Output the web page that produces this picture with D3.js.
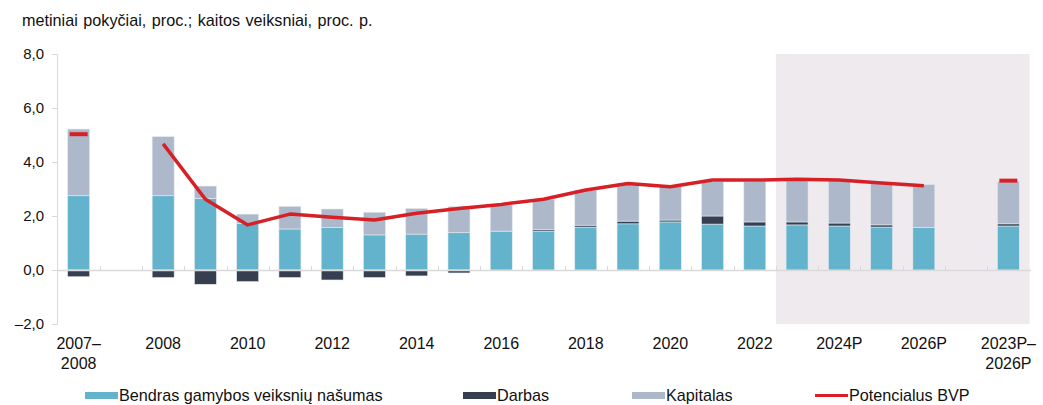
<!DOCTYPE html>
<html><head><meta charset="utf-8">
<script src="https://cdn.jsdelivr.net/npm/d3@7/dist/d3.min.js"></script>
<style>body{margin:0;background:#fff}svg{display:block;font-family:"Liberation Sans",Arial,sans-serif}</style>
</head><body><svg id="c" width="1043" height="405"></svg>
<script>
const categories = ["2007–2008","gap1","2008","2009","2010","2011","2012","2013","2014","2015","2016","2017","2018","2019","2020","2021","2022","2023","2024","2025","2026","gap2","2023P–2026P"];
const tickLabels = ["2007–\n2008","","2008","","2010","","2012","","2014","","2016","","2018","","2020","","2022","","2024P","","2026P","","2023P–\n2026P"];
const tfp     = [2.75,null,2.75,2.65,1.72,1.52,1.57,1.30,1.33,1.38,1.42,1.44,1.59,1.71,1.78,1.70,1.63,1.67,1.63,1.59,1.57,null,1.63];
const labor   = [-0.25,null,-0.28,-0.53,-0.43,-0.28,-0.37,-0.28,-0.22,-0.11,0.02,0.05,0.07,0.10,0.07,0.30,0.15,0.11,0.11,0.08,0.00,null,0.08];
const capital = [2.47,null,2.19,0.46,0.35,0.84,0.69,0.84,0.95,0.97,0.97,1.13,1.30,1.40,1.25,1.27,1.49,1.55,1.59,1.54,1.60,null,1.57];
const potential = [null,null,4.67,2.62,1.67,2.07,1.95,1.85,2.10,2.28,2.43,2.62,2.96,3.20,3.08,3.33,3.33,3.36,3.33,3.22,3.12,null,null];
const potentialMarkers = [5.03,null,null,null,null,null,null,null,null,null,null,null,null,null,null,null,null,null,null,null,null,null,3.31];
const yTicks = [-2,0,2,4,6,8];
const seriesNames = ["Bendras gamybos veiksnių našumas","Darbas","Kapitalas","Potencialus BVP"];
const title = "metiniai pokyčiai, proc.; kaitos veiksniai, proc. p.";
const forecastStart = "2023";

const colors = {tfp:"#63b3cd", labor:"#353f50", capital:"#adb8ca", line:"#d71f26"};
const svg = d3.select("#c");
const x = d3.scaleBand().domain(categories).range([57.5,1029.5]).padding(0);
const y = d3.scaleLinear().domain([-2,8]).range([324,54]);
const bw = 22;
const fmt = v => (v<0?"–":"") + Math.abs(v).toFixed(1).replace(".",",");

// forecast shading
svg.append("rect").attr("x", x(forecastStart)).attr("y", y(8))
  .attr("width", x.range()[1]-x(forecastStart)).attr("height", y(-2)-y(8)).attr("fill","#efeaee");

// title
svg.append("text").attr("x",22).attr("y",26).attr("font-size",16.2).attr("word-spacing",1).attr("fill","#111").text(title);

// y axis
const yAxis = svg.append("g").attr("transform","translate(57,0)")
  .call(d3.axisLeft(y).tickValues(yTicks).tickSize(5).tickFormat(fmt));
yAxis.select(".domain").attr("stroke","#d9d9d9").attr("d","M-5,54.5H0.5V324.5H-5");
yAxis.selectAll(".tick line").attr("stroke","#d9d9d9");
yAxis.selectAll(".tick text").attr("font-size",15).attr("fill","#111").attr("x",-13).attr("font-family","Liberation Sans, Arial, sans-serif");

// bars
const bars = svg.append("g");
categories.forEach((c,i)=>{
  if (tfp[i]==null) return;
  const cx = x(c)+x.bandwidth()/2 - bw/2;
  const l = labor[i];
  const segs = [];
  segs.push({y0:0,y1:tfp[i],col:colors.tfp});
  let top = tfp[i];
  if (l>0){ segs.push({y0:top,y1:top+l,col:colors.labor}); top+=l; }
  else if (l<0){ segs.push({y0:l,y1:0,col:colors.labor}); }
  segs.push({y0:top,y1:top+capital[i],col:colors.capital});
  segs.forEach(s=>{
    bars.append("rect").attr("x",cx).attr("width",bw)
      .attr("y",y(s.y1)).attr("height",Math.max(0,y(s.y0)-y(s.y1)))
      .attr("fill",s.col).attr("stroke","#e6ebf0").attr("stroke-width",0.6);
  });
});

// zero axis with ticks
const xAxis = svg.append("g").attr("transform",`translate(0,${y(0)})`);
xAxis.append("line").attr("x1",57).attr("x2",1031).attr("y1",0.5).attr("y2",0.5).attr("stroke","#d9d9d9").attr("stroke-width",1.5);
categories.forEach((c,i)=>{ if(i>0){ xAxis.append("line").attr("x1",Math.round(x(c))+0.5).attr("x2",Math.round(x(c))+0.5).attr("y1",-4).attr("y2",0).attr("stroke","#d9d9d9"); }});

// x labels
categories.forEach((c,i)=>{
  const lab = tickLabels[i]; if(!lab) return;
  const t = svg.append("text").attr("x",x(c)+x.bandwidth()/2).attr("y",349).attr("text-anchor","middle").attr("font-size",16).attr("fill","#111");
  lab.split("\n").forEach((s,k)=>t.append("tspan").attr("x",x(c)+x.bandwidth()/2).attr("dy",k?20:0).text(s));
});

// potential line
const line = d3.line().defined(d=>d!=null).x((d,i)=>x(categories[i])+x.bandwidth()/2).y(d=>y(d));
svg.append("path").datum(potential).attr("d",line).attr("fill","none").attr("stroke",colors.line).attr("stroke-width",3.5).attr("stroke-linejoin","round");
potentialMarkers.forEach((v,i)=>{
  if(v==null) return;
  const cx = x(categories[i])+x.bandwidth()/2;
  svg.append("line").attr("x1",cx-9).attr("x2",cx+9).attr("y1",y(v)).attr("y2",y(v)).attr("stroke",colors.line).attr("stroke-width",4);
});

// legend
const leg = [
  {name:seriesNames[0],col:colors.tfp,x:85,type:"rect"},
  {name:seriesNames[1],col:colors.labor,x:463,type:"rect"},
  {name:seriesNames[2],col:colors.capital,x:632,type:"rect"},
  {name:seriesNames[3],col:colors.line,x:815,type:"line"}
];
leg.forEach(d=>{
  if(d.type==="rect") svg.append("rect").attr("x",d.x).attr("y",392).attr("width",33).attr("height",7).attr("fill",d.col);
  else svg.append("line").attr("x1",d.x).attr("x2",d.x+33).attr("y1",395.5).attr("y2",395.5).attr("stroke",d.col).attr("stroke-width",3);
  svg.append("text").attr("x",d.x+34).attr("y",401).attr("font-size",16.2).attr("fill","#111").text(d.name);
});
</script></body></html>
